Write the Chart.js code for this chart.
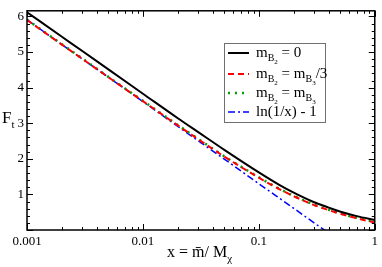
<!DOCTYPE html>
<html>
<head>
<meta charset="utf-8">
<script src="https://cdn.jsdelivr.net/npm/chart.js@4.4.1/dist/chart.umd.min.js"></script>
<style>
  html, body { margin: 0; padding: 0; background: #fff; }
  #wrap { width: 382px; height: 267px; }
</style>
</head>
<body>
<div id="wrap"><canvas id="chart" width="382" height="267"></canvas></div>
<script>
// F_t versus x = mbar / M_chi

const xValues = [0.001, 0.002, 0.003, 0.005, 0.01, 0.02, 0.03, 0.05, 0.1, 0.15, 0.2, 0.3, 0.4, 0.5, 0.7, 1];
const ftZero = [6.12, 5.43, 5.03, 4.52, 3.83, 3.14, 2.75, 2.26, 1.62, 1.27, 1.05, 0.78, 0.63, 0.52, 0.39, 0.28];
const ftThird = [5.90, 5.21, 4.81, 4.30, 3.62, 2.94, 2.55, 2.07, 1.47, 1.15, 0.95, 0.70, 0.56, 0.46, 0.33, 0.21];
const ftEqual = [5.91, 5.22, 4.82, 4.31, 3.63, 2.95, 2.56, 2.08, 1.48, 1.16, 0.96, 0.71, 0.57, 0.47, 0.34, 0.23];

const xLog = [0.001, 0.002, 0.005, 0.01, 0.02, 0.05, 0.1, 0.2, 0.3, 0.4];
const ftLog = [5.91, 5.21, 4.30, 3.61, 2.91, 2.00, 1.30, 0.61, 0.20, -0.08];

const xTicks = [0.001, 0.01, 0.1, 1];
const yTicks = [1, 2, 3, 4, 5, 6];

const SERIF = '"Liberation Serif", "DejaVu Serif", serif';

function pairs(xs, ys) {
    return xs.map((x, i) => ({ x: x, y: ys[i] }));
}

// draws text pieces with sub/superscript offsets, returns end x
function drawRich(ctx, parts, x, y) {
    parts.forEach(p => {
        ctx.font = p.size + 'px ' + SERIF;
        ctx.fillText(p.t, x, y + (p.dy || 0));
        x += ctx.measureText(p.t).width;
    });
    return x;
}

const mB2 = [
    { t: 'm', size: 15 },
    { t: 'B', size: 10, dy: 4 },
    { t: '2', size: 7, dy: 7 }
];
const mB3 = [
    { t: 'm', size: 15 },
    { t: 'B', size: 10, dy: 4 },
    { t: '3', size: 7, dy: 7 }
];

const legendItems = [
    { color: '#000000', dash: [], width: 2, parts: mB2.concat([{ t: ' = 0', size: 15 }]) },
    { color: '#ff0000', dash: [6, 4], width: 2, parts: mB2.concat([{ t: ' = ', size: 15 }], mB3, [{ t: '/3', size: 15 }]) },
    { color: '#00a000', dash: [2, 5], width: 2.5, parts: mB2.concat([{ t: ' = ', size: 15 }], mB3) },
    { color: '#0000ff', dash: [7, 3, 2, 3], width: 1.5, parts: [{ t: 'ln(1/x) - 1', size: 15 }] }
];

const framePlugin = {
    id: 'frame',
    afterDraw(chart) {
        const ctx = chart.ctx;
        const a = chart.chartArea;
        const xs = chart.scales.x;
        const ys = chart.scales.y;
        ctx.save();
        ctx.strokeStyle = '#000';
        ctx.lineWidth = 1;
        ctx.setLineDash([]);

        // x ticks, inward on bottom and top
        for (let d = 0.001; d < 1.5; d *= 10) {
            for (let m = 1; m <= 9; m++) {
                const v = d * m;
                if (v > 1.0001) break;
                const px = Math.round(xs.getPixelForValue(v)) + 0.5;
                const len = m === 1 ? 6 : 3;
                ctx.beginPath();
                ctx.moveTo(px, a.bottom); ctx.lineTo(px, a.bottom - len);
                ctx.moveTo(px, a.top); ctx.lineTo(px, a.top + len);
                ctx.stroke();
            }
        }
        // y ticks, inward on left and right
        for (let i = 0; i <= 30; i++) {
            const v = i * 0.2;
            const py = Math.round(ys.getPixelForValue(v)) + 0.5;
            const len = i % 5 === 0 ? 6 : 3;
            ctx.beginPath();
            ctx.moveTo(a.left, py); ctx.lineTo(a.left + len, py);
            ctx.moveTo(a.right, py); ctx.lineTo(a.right - len, py);
            ctx.stroke();
        }
        ctx.lineWidth = 1.5;
        ctx.strokeRect(a.left, a.top, a.right - a.left, a.bottom - a.top);

        // axis titles
        ctx.fillStyle = '#000';
        ctx.textBaseline = 'alphabetic';
        ctx.textAlign = 'left';
        drawRich(ctx, [{ t: 'F', size: 17 }, { t: 't', size: 11, dy: 5 }], 2, 123);
        drawRich(ctx, [{ t: 'x = m\u0304/ M', size: 16 }, { t: '\u03c7', size: 11, dy: 5 }], 167, 257);

        // legend box
        const lx = 224, ly = 43, lw = 101, lh = 79;
        ctx.fillStyle = '#fff';
        ctx.fillRect(lx, ly, lw, lh);
        ctx.strokeStyle = '#707070';
        ctx.lineWidth = 1;
        ctx.strokeRect(lx + 0.5, ly + 0.5, lw, lh);
        const rowY = [53, 74, 93, 112];
        legendItems.forEach((item, i) => {
            ctx.strokeStyle = item.color;
            ctx.lineWidth = item.width;
            ctx.setLineDash(item.dash);
            ctx.beginPath();
            ctx.moveTo(228, rowY[i]);
            ctx.lineTo(249, rowY[i]);
            ctx.stroke();
            ctx.setLineDash([]);
            ctx.fillStyle = '#000';
            drawRich(ctx, item.parts, 256, rowY[i] + 4);
        });
        ctx.restore();
    }
};

new Chart(document.getElementById('chart'), {
    type: 'line',
    data: {
        datasets: [
            { data: pairs(xValues, ftZero), borderColor: '#000000', borderWidth: 2 },
            { data: pairs(xValues, ftThird), borderColor: '#ff0000', borderWidth: 2, borderDash: [6, 4] },
            { data: pairs(xValues, ftEqual), borderColor: '#00a000', borderWidth: 2.5, borderDash: [2, 5] },
            { data: pairs(xLog, ftLog), borderColor: '#0000ff', borderWidth: 1.5, borderDash: [7, 3, 2, 3] }
        ]
    },
    options: {
        responsive: false,
        animation: false,
        layout: { padding: { top: 1, right: 3, left: 0, bottom: 0 } },
        elements: {
            point: { radius: 0 },
            line: { cubicInterpolationMode: 'monotone', fill: false }
        },
        plugins: {
            legend: { display: false },
            tooltip: { enabled: false }
        },
        scales: {
            x: {
                type: 'logarithmic',
                min: 0.001,
                max: 1,
                afterBuildTicks: s => { s.ticks = xTicks.map(v => ({ value: v })); },
                afterFit: s => { s.height = 37; },
                grid: { display: false, drawTicks: false },
                border: { display: false },
                ticks: {
                    autoSkip: false,
                    maxRotation: 0,
                    padding: 4,
                    color: '#000',
                    font: { family: SERIF, size: 13 },
                    callback: v => String(v)
                }
            },
            y: {
                min: 0,
                max: 6.16,
                afterBuildTicks: s => { s.ticks = yTicks.map(v => ({ value: v })); },
                afterFit: s => { s.width = 27; },
                grid: { display: false, drawTicks: false },
                border: { display: false },
                ticks: {
                    padding: 3,
                    color: '#000',
                    font: { family: SERIF, size: 13 },
                    callback: v => String(v)
                }
            }
        }
    },
    plugins: [framePlugin]
});
</script>
</body>
</html>
